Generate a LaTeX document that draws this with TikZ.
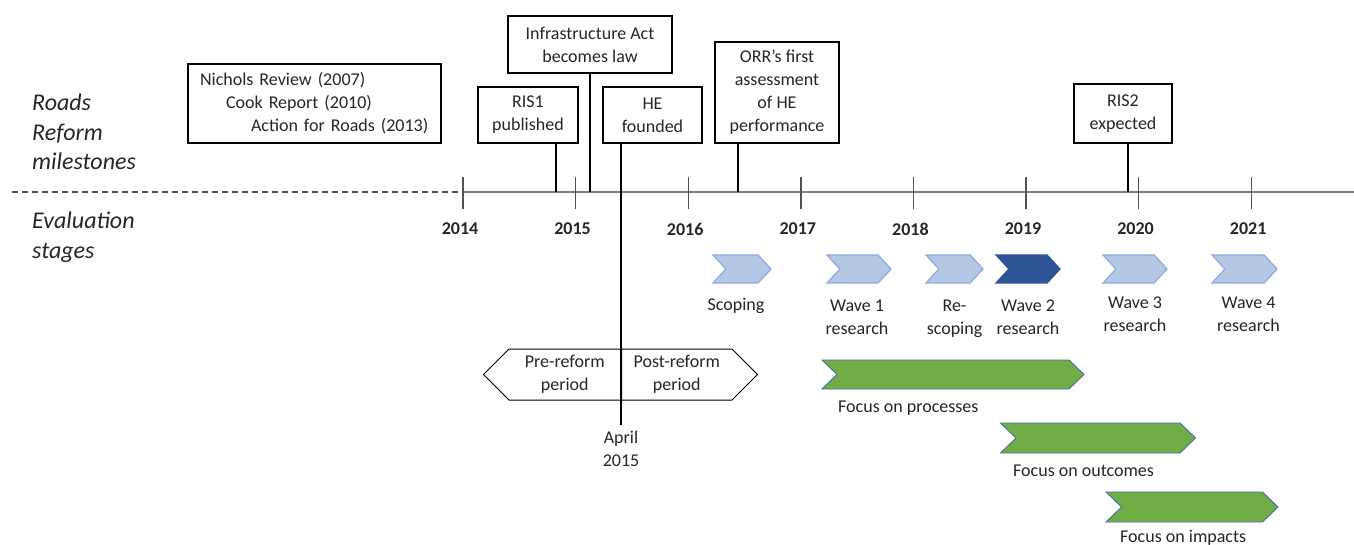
\documentclass[tikz,border=0pt]{standalone}
\usepackage{fontspec}
\setmainfont{Carlito}
\usetikzlibrary{positioning,shapes.symbols}

\definecolor{wavefill}{HTML}{B4C7E7}
\definecolor{waveline}{HTML}{8FAADC}
\definecolor{wavedark}{HTML}{2F5597}
\definecolor{focusfill}{HTML}{70AD47}
\definecolor{focusline}{HTML}{41719C}
\definecolor{axisgrey}{HTML}{808080}
\definecolor{inkgrey}{HTML}{262626}

\tikzset{
  txt/.style={font=\fontsize{18}{23}\selectfont, text=inkgrey},
  box/.style={txt, draw=black, line width=1.2pt, align=center, inner sep=0pt},
  link/.style={draw=black, line width=1.3pt},
  axis/.style={draw=axisgrey, line width=2.8pt},
  dashline/.style={draw=inkgrey!80, line width=1.3pt, dash pattern=on 6pt off 4pt},
  tick/.style={draw=inkgrey!80, line width=1.4pt},
  yr/.style={font=\fontsize{18}{23}\selectfont\bfseries, text=inkgrey},
  side/.style={font=\fontsize{24}{29.5}\selectfont\itshape, text=inkgrey, align=left, inner sep=0pt},
  lbl/.style={txt, align=center, inner sep=0pt},
  chev/.style={shape=signal, signal to=east, signal from=west, signal pointer angle=95,
    fill=wavefill, draw=waveline, line width=1.2pt, minimum height=28pt, inner sep=0pt},
  chevdark/.style={chev, fill=wavedark, draw=wavedark},
  focus/.style={shape=signal, signal to=east, signal from=west, signal pointer angle=88,
    fill=focusfill, draw=focusline, line width=0.9pt, minimum height=29pt, inner sep=0pt},
  period/.style={txt, shape=signal, signal pointer angle=90, draw=black, line width=1pt,
    minimum height=51pt, inner sep=0pt, align=center}
}

\begin{document}
\begin{tikzpicture}[x=1pt,y=-1pt]
\useasboundingbox (0,0) rectangle (1354,545);

\node[side, anchor=west]                               (roads) at (32,132) {Roads\\Reform\\milestones};
\node[side, anchor=west]                               (evals) at (32,237) {Evaluation\\stages};

% timeline
\coordinate (tlstart) at (12,192);
\coordinate (tlmid) at (463,192);
\coordinate (tlend) at (1354,192);
\draw[dashline] (tlstart) -- (tlmid);
\draw[axis] (tlmid) -- (tlend);
\foreach \yr [count=\i from 0] in {2014,...,2021} {
  \coordinate (t\yr) at ({463+112.6*\i},192);
  \draw[tick] ([yshift=15pt]t\yr) -- ([yshift=-17pt]t\yr);
  \node[yr] (y\yr) at ([xshift=-3pt,yshift=-37pt]t\yr) {\yr};
}

% milestones
\node[box, minimum width=253pt, minimum height=79pt, text width=229pt, align=left]                               (nichols) at (314.5,103.5)
  {Nichols Review (2007)\\\hspace*{26pt}Cook Report (2010)\\\hspace*{51pt}Action for Roads (2013)};
\node[box, minimum width=164pt, minimum height=57pt]                               (infra) at (590,44.5) {Infrastructure Act\\becomes law};
\node[box, minimum width=100pt, minimum height=56pt]                               (ris1) at (528,115) {RIS1\\published};
\node[box, minimum width=99pt, minimum height=56pt]                               (he) at (652.5,115) {HE\\founded};
\node[box, minimum width=124pt, minimum height=101pt]                               (orr) at (777,92.5) {ORR’s first\\assessment\\of HE\\performance};
\node[box, minimum width=98pt, minimum height=59pt]                               (ris2) at (1123,113.5) {RIS2\\expected};

\coordinate (mris1) at (556,192);
\coordinate (minfra) at (590,192);
\coordinate (morr) at (738,192);
\coordinate (mris2) at (1128,192);
\coordinate (april) at (621,425);

\draw[link] (ris1.south -| mris1) -- (mris1);
\draw[link] (infra.south -| minfra) -- (minfra);
\draw[link] (orr.south -| morr) -- (morr);
\draw[link] (ris2.south -| mris2) -- (mris2);

% reform periods
\coordinate (reform) at (621,374.5);
\node[period, signal to=west, minimum width=137pt, anchor=east]                               (pre) at (reform) {Pre-reform\\period};
\node[period, signal to=east, minimum width=136pt, anchor=west]                               (post) at (reform) {Post-reform\\period};
\draw[link] (he.south -| april) -- (april); %
\node[lbl, below=6pt of april]                               (aprillbl) {April\\2015};

% evaluation waves
\node[chev, minimum width=58pt]                               (scoping) at (742,269) {};
\node[chev, minimum width=64pt]                               (wave1) at (859,269) {};
\node[chev, minimum width=57pt]                               (rescope) at (954.5,269) {};
\node[chevdark, minimum width=64pt]                               (wave2) at (1028,269) {};
\node[chev, minimum width=64pt]                               (wave3) at (1135,269) {};
\node[chev, minimum width=65pt]                               (wave4) at (1244.5,269) {};

\node[lbl, below=14pt of scoping, xshift=-6pt]                               (scopinglbl) {Scoping};
\node[lbl, below=16pt of wave1, xshift=-2pt]                               (wave1lbl) {Wave 1\\research};
\node[lbl, below=16pt of rescope]                               (rescopelbl) {Re-\\scoping};
\node[lbl, below=16pt of wave2]                               (wave2lbl) {Wave 2\\research};
\node[lbl, below=13pt of wave3]                               (wave3lbl) {Wave 3\\research};
\node[lbl, below=13pt of wave4, xshift=4pt]                               (wave4lbl) {Wave 4\\research};

% focus bars
\node[focus, minimum width=262pt]                               (proc) at (953,374.5) {};
\node[focus, minimum width=195pt, minimum height=30pt]                               (outc) at (1098,438) {};
\node[focus, minimum width=172pt, minimum height=30pt]                               (impc) at (1192,507) {};

\node[lbl, anchor=west]                               (proclbl) at (838,408) {Focus on processes};
\node[lbl, anchor=west]                               (outclbl) at (1013,471) {Focus on outcomes};
\node[lbl, anchor=west]                               (impclbl) at (1120,538) {Focus on impacts};

\end{tikzpicture}
\end{document}
